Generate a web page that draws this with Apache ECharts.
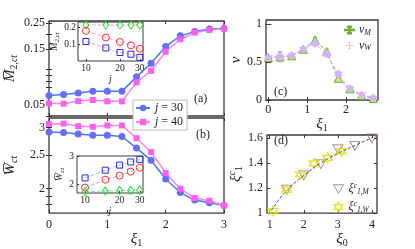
<!DOCTYPE html>
<html><head><meta charset="utf-8">
<script src="https://cdn.jsdelivr.net/npm/echarts@6/dist/echarts.min.js"></script>
<style>html,body{margin:0;padding:0;background:#fff}#c{width:415px;height:249px}</style>
</head><body><div id="c"></div>
<script>
// ---- data ----
const xi1 = [0, 0.25, 0.5, 0.75, 1.0, 1.25, 1.5, 1.75, 2.0, 2.25, 2.5, 2.75, 3.0];
const M2_j30 = [0.060, 0.061, 0.063, 0.065, 0.065, 0.065, 0.0865, 0.113, 0.157, 0.194, 0.211, 0.222, 0.224];
const M2_j40 = [0.0513, 0.051, 0.0537, 0.0548, 0.0534, 0.0534, 0.0775, 0.0975, 0.142, 0.1815, 0.207, 0.218, 0.224];
const W_j30 = [2.916, 2.905, 2.878, 2.854, 2.854, 2.830, 2.619, 2.417, 2.133, 1.949, 1.854, 1.821, 1.788];
const W_j40 = [3.076, 3.084, 3.031, 3.019, 3.045, 3.045, 2.798, 2.553, 2.219, 2.000, 1.879, 1.846, 1.788];

const jVals = [10, 15, 20, 25, 30];
const insA_green = [0.212, 0.212, 0.212, 0.212, 0.212];
const insA_red = [0.178, 0.139, 0.112, 0.092, 0.072];
const insA_blue = [0.115, 0.077, 0.050, 0.040, 0.021];
const insB_blue = [2.23, 2.50, 2.68, 2.79, 2.88];
const insB_red = [1.89, 2.17, 2.31, 2.45, 2.59];
const insB_green = [1.74, 1.77, 1.79, 1.79, 1.80];

const xiC = [0, 0.3, 0.6, 0.9, 1.2, 1.5, 1.8, 2.1, 2.4, 2.7];
const nuM = [0.557, 0.565, 0.58, 0.667, 0.79, 0.635, 0.285, 0.145, 0.06, 0.02];
const nuMerr = [0.03, 0.06, 0.03, 0.025, 0.03, 0.03, 0.03, 0.025, 0.02, 0.02];
const nuW = [0.557, 0.57, 0.585, 0.667, 0.737, 0.60, 0.34, 0.15, 0.07, 0.03];
const nuWerr = [0.03, 0.07, 0.03, 0.025, 0.03, 0.03, 0.04, 0.025, 0.02, 0.02];

const xi0M = [1.5, 2.0, 2.5, 3.0, 3.5, 4.0];
const xi1M = [1.187, 1.30, 1.39, 1.51, 1.535, 1.595];
const xi0W = [1.1, 1.5, 1.9, 2.3, 2.7, 3.1];
const xi1W = [1.015, 1.187, 1.308, 1.396, 1.44, 1.495];
const fitX = [1.05, 1.25, 1.5, 1.75, 2.0, 2.5, 3.0, 3.5, 4.0];
const fitY = [1.02, 1.10, 1.18, 1.245, 1.30, 1.40, 1.475, 1.54, 1.60];

const mainXTicks = [0, 1, 2, 3];
const aYLabels = [0.05, 0.15, 0.25];
const aYTicks = [0.04, 0.05, 0.06, 0.07, 0.08, 0.09, 0.1, 0.15, 0.2, 0.25];
const bYLabels = [2, 2.5, 3];
const bYTicks = [1.8, 1.9, 2, 2.5, 3];
const insXLabels = [10, 20, 30];
const insAYLabels = [0.1, 0.2];
const insBYLabels = [2, 3];
const cXLabels = [0, 1, 2];
const cYLabels = [0, 0.5, 1];
const dXLabels = [1, 2, 3, 4];
const dYLabels = [1, 1.2, 1.4, 1.6];

// ---- helpers ----
const F = 'Liberation Serif, DejaVu Serif, serif';
const zip = (a, b) => a.map((v, i) => [v, b[i]]);
const fmt = v => String(+(+v).toFixed(4));
const subRich = {
  i: {fontFamily: F, fontStyle: 'italic', fontSize: 15, color: '#222'},
  s: {fontFamily: F, fontStyle: 'italic', fontSize: 10, color: '#222', padding: [7, 0, 0, 0]},
  n: {fontFamily: F, fontSize: 10, color: '#222', padding: [7, 0, 0, 0]},
  p: {fontFamily: F, fontStyle: 'italic', fontSize: 10, color: '#222', padding: [0, 0, 7, 0]}
};
const smallRich = {
  i: {fontFamily: F, fontStyle: 'italic', fontSize: 10, color: '#222'},
  s: {fontFamily: F, fontStyle: 'italic', fontSize: 7, color: '#222', padding: [5, 0, 0, 0]}
};

function axis(o) {
  const base = {
    type: o.type || 'value', gridIndex: o.grid, position: o.position,
    min: o.min, max: o.max,
    axisLine: {show: false}, splitLine: {show: false},
    axisTick: {show: true, inside: true, length: o.tickLen || 3, lineStyle: {color: '#333', width: 1}, customValues: o.ticks},
    axisLabel: {show: !!o.labels, customValues: o.labels || o.ticks, fontFamily: F, fontSize: o.fs || 12, color: '#222', margin: o.margin || 4, formatter: fmt}
  };
  if (o.name) {
    base.name = o.name; base.nameLocation = 'middle'; base.nameGap = o.nameGap;
    base.nameTextStyle = {rich: o.rich, padding: o.namePad || 0};
  }
  return base;
}

const xAxes = [
  axis({grid: 0, position: 'bottom', min: 0, max: 3, ticks: mainXTicks}),
  axis({grid: 0, position: 'top', min: 0, max: 3, ticks: mainXTicks}),
  axis({grid: 1, position: 'bottom', min: 0, max: 3, ticks: mainXTicks, labels: mainXTicks, margin: 6,
        name: '{i|ξ}{n|1}', nameGap: 16, rich: subRich}),
  axis({grid: 1, position: 'top', min: 0, max: 3, ticks: mainXTicks}),
  axis({grid: 2, type: 'log', position: 'bottom', min: 8.5, max: 32, ticks: insXLabels, labels: insXLabels, fs: 9.5, margin: 2, tickLen: 2,
        name: '{i|j}', nameGap: 8, rich: smallRich}),
  axis({grid: 3, type: 'log', position: 'bottom', min: 8.5, max: 32, ticks: insXLabels, labels: insXLabels, fs: 9.5, margin: 2, tickLen: 2,
        name: '{i|j}', nameGap: 8, rich: smallRich}),
  axis({grid: 4, position: 'bottom', min: -0.06, max: 2.82, ticks: cXLabels, labels: cXLabels, margin: 4,
        name: '{i|ξ}{n|1}', nameGap: 9, rich: subRich}),
  axis({grid: 4, position: 'top', min: -0.06, max: 2.82, ticks: cXLabels}),
  axis({grid: 5, position: 'bottom', min: 0.92, max: 4.15, ticks: dXLabels, labels: dXLabels, margin: 6,
        name: '{i|ξ}{n|0}', nameGap: 16, rich: subRich, namePad: [0, 0, 0, 40]}),
  axis({grid: 5, position: 'top', min: 0.92, max: 4.15, ticks: dXLabels})
];
const yAxes = [
  axis({grid: 0, type: 'log', position: 'left', min: 0.04, max: 0.26, ticks: aYTicks, labels: aYLabels,
        name: '{i|M\u0305}{n|2,}{s|ct}', nameGap: 30, rich: subRich}),
  axis({grid: 0, type: 'log', position: 'right', min: 0.04, max: 0.26, ticks: aYTicks}),
  axis({grid: 1, type: 'log', position: 'left', min: 1.7, max: 3.2, ticks: bYTicks, labels: bYLabels,
        name: '{i|W\u0305}{s|ct}', nameGap: 30, rich: subRich}),
  axis({grid: 1, type: 'log', position: 'right', min: 1.7, max: 3.2, ticks: bYTicks}),
  axis({grid: 2, position: 'left', min: 0, max: 0.23, ticks: insAYLabels, labels: insAYLabels, fs: 9.5, margin: 2, tickLen: 2,
        name: '{i|M\u0305}{s|2,ct}', nameGap: 4, rich: smallRich}),
  axis({grid: 3, position: 'left', min: 1.7, max: 3.0, ticks: insBYLabels, labels: insBYLabels, fs: 9.5, margin: 3, tickLen: 2,
        name: '{i|W\u0305}{s|ct}', nameGap: 6, rich: smallRich}),
  axis({grid: 4, position: 'left', min: 0, max: 1.05, ticks: cYLabels, labels: cYLabels, margin: 4,
        name: '{i|ν}', nameGap: 18, rich: subRich}),
  axis({grid: 4, position: 'right', min: 0, max: 1.05, ticks: cYLabels}),
  axis({grid: 5, position: 'left', min: 1, max: 1.623, ticks: dYLabels, labels: dYLabels, margin: 4,
        name: '{i|ξ}{p|c}{n|1}', nameGap: 20, rich: subRich}),
  axis({grid: 5, position: 'right', min: 1, max: 1.623, ticks: dYLabels})
];

const frame = {show: true, borderColor: '#3a3a3a', borderWidth: 1.3, backgroundColor: 'rgba(0,0,0,0)'};
const grids = [
  Object.assign({left: 49, top: 21, width: 175, height: 95}, frame),
  Object.assign({left: 49, top: 118, width: 175, height: 98}, frame),
  Object.assign({left: 78, top: 22, width: 65, height: 39}, frame, {backgroundColor: '#fff', borderWidth: 1}),
  Object.assign({left: 77, top: 156, width: 66, height: 37}, frame, {backgroundColor: '#fff', borderWidth: 1}),
  Object.assign({left: 266, top: 20, width: 112, height: 80}, frame),
  Object.assign({left: 267, top: 135, width: 110, height: 81}, frame)
];

const TRI_DOWN = 'path://M0,0L10,0L5,8.66Z';
const HEXA = 'path://M5,0L9.33,7.5L0.67,7.5Z M5,10L0.67,2.5L9.33,2.5Z';
const IBEAM = 'path://M0,4.6h10v0.8h-10z M4.6,1h0.8v8h-0.8z M3.2,1h3.6v0.8h-3.6z M3.2,8.2h3.6v0.8h-3.6z';
const clear = 'rgba(0,0,0,0)';

function errRender(params, api) {
  const x = api.value(0), lo = api.value(1), hi = api.value(2);
  const a = api.coord([x, lo]), b = api.coord([x, hi]);
  const w = 2;
  const style = {stroke: api.visual('color'), lineWidth: 1};
  return {type: 'group', children: [
    {type: 'line', shape: {x1: a[0], y1: a[1], x2: b[0], y2: b[1]}, style},
    {type: 'line', shape: {x1: a[0] - w, y1: a[1], x2: a[0] + w, y2: a[1]}, style},
    {type: 'line', shape: {x1: b[0] - w, y1: b[1], x2: b[0] + w, y2: b[1]}, style}
  ]};
}
const errData = (x, y, e) => x.map((v, i) => [v, y[i] - e[i], y[i] + e[i]]);

const blueM = '#6a6cf6', blueL = '#3c7ef2', pinkM = '#ff5ef0', pinkL = '#ff80f0';
const insMarker = (color, symbol, size) => ({symbol, symbolSize: size, itemStyle: {color: clear, borderColor: color, borderWidth: 1}});
const triCol = '#9a6f92', starCol = '#dede00';

const series = [
  {name: 'j30', type: 'line', xAxisIndex: 0, yAxisIndex: 0, data: zip(xi1, M2_j30), symbol: 'circle', symbolSize: 7,
   itemStyle: {color: blueM}, lineStyle: {color: blueL, width: 1.5}, z: 3},
  {name: 'j40', type: 'line', xAxisIndex: 0, yAxisIndex: 0, data: zip(xi1, M2_j40), symbol: 'rect', symbolSize: 6,
   itemStyle: {color: pinkM}, lineStyle: {color: pinkL, width: 1.5}, z: 3},
  {name: 'j30', type: 'line', xAxisIndex: 2, yAxisIndex: 2, data: zip(xi1, W_j30), symbol: 'circle', symbolSize: 7,
   itemStyle: {color: blueM}, lineStyle: {color: blueL, width: 1.5}, z: 3},
  {name: 'j40', type: 'line', xAxisIndex: 2, yAxisIndex: 2, data: zip(xi1, W_j40), symbol: 'rect', symbolSize: 6,
   itemStyle: {color: pinkM}, lineStyle: {color: pinkL, width: 1.5}, z: 3},

  Object.assign({name: 'ia_g', type: 'line', xAxisIndex: 4, yAxisIndex: 4, data: zip(jVals, insA_green), lineStyle: {color: '#ffa3d6', type: 'dashed', width: 1}, z: 5}, insMarker('#22dd22', 'diamond', [6, 8])),
  Object.assign({name: 'ia_r', type: 'line', xAxisIndex: 4, yAxisIndex: 4, data: zip(jVals, insA_red), lineStyle: {color: '#ffa3d6', type: 'dashed', width: 1}, z: 5}, insMarker('#ff2a2a', 'circle', 7)),
  Object.assign({name: 'ia_b', type: 'line', xAxisIndex: 4, yAxisIndex: 4, data: zip(jVals, insA_blue), lineStyle: {color: '#ffa3d6', type: 'dashed', width: 1}, z: 5}, insMarker('#2a2ae0', 'rect', 6)),
  Object.assign({name: 'ib_b', type: 'line', xAxisIndex: 5, yAxisIndex: 5, data: zip(jVals, insB_blue), lineStyle: {color: '#80d0f0', type: 'dashed', width: 1}, z: 5}, insMarker('#2a2ae0', 'rect', 6)),
  Object.assign({name: 'ib_r', type: 'line', xAxisIndex: 5, yAxisIndex: 5, data: zip(jVals, insB_red), lineStyle: {color: '#80d0f0', type: 'dashed', width: 1}, z: 5}, insMarker('#ff2a2a', 'circle', 7)),
  Object.assign({name: 'ib_g', type: 'line', xAxisIndex: 5, yAxisIndex: 5, data: zip(jVals, insB_green), lineStyle: {color: '#80d0f0', type: 'dashed', width: 1}, z: 5}, insMarker('#22dd22', 'diamond', [6, 8])),

  {name: 'nuM', type: 'line', xAxisIndex: 6, yAxisIndex: 6, data: zip(xiC, nuM), symbol: 'triangle', symbolSize: 8,
   itemStyle: {color: '#c9e6a0', borderColor: '#6fae2a', borderWidth: 1}, lineStyle: {color: '#74b030', type: 'dashed', width: 1}},
  {name: 'nuMe', type: 'custom', xAxisIndex: 6, yAxisIndex: 6, data: errData(xiC, nuM, nuMerr), renderItem: errRender,
   itemStyle: {color: '#74b030'}, encode: {x: 0, y: [1, 2]}},
  {name: 'nuW', type: 'line', xAxisIndex: 6, yAxisIndex: 6, data: zip(xiC, nuW), symbol: HEXA, symbolSize: 9,
   itemStyle: {color: '#d7b0ff'}, lineStyle: {color: '#d7b0ff', type: 'dashed', width: 1}, z: 4},
  {name: 'nuWe', type: 'custom', xAxisIndex: 6, yAxisIndex: 6, data: errData(xiC, nuW, nuWerr), renderItem: errRender,
   itemStyle: {color: '#d2a6ff'}, encode: {x: 0, y: [1, 2]}, z: 4},

  {name: 'fit', type: 'line', xAxisIndex: 8, yAxisIndex: 8, data: zip(fitX, fitY), smooth: true, showSymbol: false,
   lineStyle: {color: '#2f4f9a', type: [3, 2], width: 1}},
  {name: 'xiM', type: 'scatter', xAxisIndex: 8, yAxisIndex: 8, data: zip(xi0M, xi1M), symbol: TRI_DOWN, symbolSize: [10, 9],
   itemStyle: {color: clear, borderColor: triCol, borderWidth: 1}},
  {name: 'xiW', type: 'scatter', xAxisIndex: 8, yAxisIndex: 8, data: zip(xi0W, xi1W), symbol: HEXA, symbolSize: 10,
   itemStyle: {color: clear, borderColor: starCol, borderWidth: 1.2}}
];

const legends = [
  {data: ['j30', 'j40'], left: 133, top: 100, orient: 'vertical', itemGap: 2, itemWidth: 14, itemHeight: 8,
   padding: [2, 4, 2, 2], backgroundColor: '#fff', borderColor: '#bbb', borderWidth: 1, z: 10,
   formatter: n => n === 'j30' ? '{i|j} = 30' : '{i|j} = 40',
   textStyle: {fontFamily: F, fontSize: 12, color: '#222', rich: {i: {fontFamily: F, fontStyle: 'italic', fontSize: 12}}}},
  {data: [{name: 'nuM', icon: IBEAM, itemStyle: {color: '#74b030'}}, {name: 'nuW', icon: IBEAM, itemStyle: {color: '#d2a6ff'}}],
   left: 344, top: 24, orient: 'vertical', itemGap: 3, itemWidth: 9, itemHeight: 9,
   padding: 0, formatter: n => n === 'nuM' ? '{i|ν}{s|M}' : '{i|ν}{s|W}',
   textStyle: {fontFamily: F, fontSize: 11, color: '#222', rich: {i: {fontFamily: F, fontStyle: 'italic', fontSize: 12}, s: {fontFamily: F, fontStyle: 'italic', fontSize: 8, padding: [5, 0, 0, 0]}}}},
  {data: [{name: 'xiM', icon: TRI_DOWN, itemStyle: {color: clear, borderColor: triCol, borderWidth: 1}},
          {name: 'xiW', icon: HEXA, itemStyle: {color: clear, borderColor: starCol, borderWidth: 1.2}}],
   left: 333, top: 182, orient: 'vertical', itemGap: 4, itemWidth: 10, itemHeight: 10,
   padding: 0, formatter: n => n === 'xiM' ? '{i|ξ}{p|c}{s|1,M}' : '{i|ξ}{p|c}{s|1,W}',
   textStyle: {fontFamily: F, fontSize: 11, color: '#222', rich: {
     i: {fontFamily: F, fontStyle: 'italic', fontSize: 12},
     s: {fontFamily: F, fontStyle: 'italic', fontSize: 7.5, padding: [6, 0, 0, 0]},
     p: {fontFamily: F, fontStyle: 'italic', fontSize: 7.5, padding: [0, 0, 6, 0]}}}}
];

const label = (t, x, y) => ({type: 'text', left: x, top: y, z: 20, style: {text: t, font: '12px ' + F, fill: '#222'}});

const chart = echarts.init(document.getElementById('c'), null, {renderer: 'canvas'});
chart.setOption({
  animation: false,
  backgroundColor: '#fff',
  grid: grids, xAxis: xAxes, yAxis: yAxes, series, legend: legends,
  graphic: [label('(a)', 194, 93), label('(b)', 196, 129), label('(c)', 274, 86), label('(d)', 274, 135)]
});
</script></body></html>
